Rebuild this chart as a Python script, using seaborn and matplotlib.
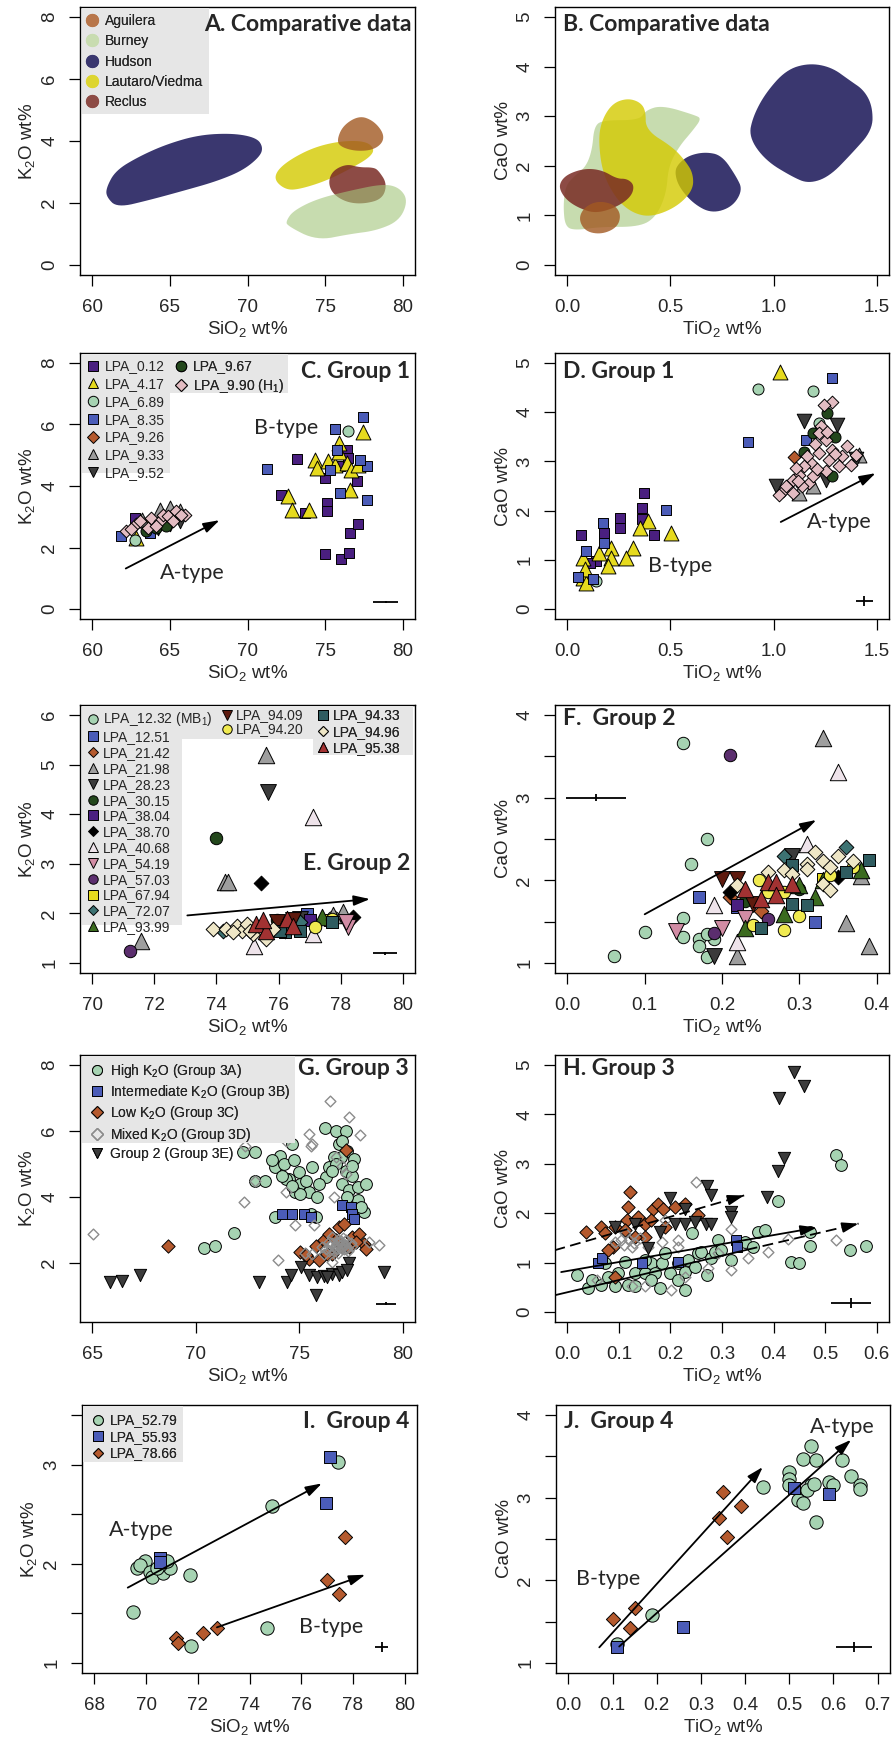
import matplotlib
matplotlib.use("Agg")
import matplotlib.pyplot as plt
import numpy as np
import seaborn as sns
from matplotlib.lines import Line2D
from matplotlib.patches import Rectangle

# ---------------- comparative data outlines (A: SiO2-K2O, B: TiO2-CaO)
hudson_a = [(60.9, 2.2), (61.6, 1.85), (63.7, 2.1), (65.9, 2.4), (68.0, 2.7), (69.7, 3.05), (70.8, 3.5),
            (71.0, 3.8), (70.6, 4.1), (69.1, 4.25), (66.9, 4.2), (64.8, 3.9), (63.0, 3.5), (61.5, 3.05), (60.9, 2.5)]
burney_a = [(72.55, 1.27), (74.45, 0.79), (76.6, 1.0), (78.3, 1.11), (79.8, 1.43), (80.35, 2.08), (79.8, 2.5),
            (78.75, 2.62), (76.6, 2.4), (74.45, 2.13), (72.95, 1.75), (72.5, 1.43)]
lautaro_a = [(71.75, 2.72), (72.5, 2.42), (73.4, 2.45), (75.1, 2.72), (76.8, 3.15), (77.9, 3.48), (78.2, 3.75),
             (77.6, 4.0), (76.0, 4.0), (74.3, 3.8), (72.8, 3.42), (71.9, 3.05)]
aguilera_a = [(75.75, 4.01), (76.15, 4.5), (77.2, 4.82), (78.1, 4.66), (78.75, 4.28), (78.75, 3.96), (78.1, 3.71),
              (77.0, 3.67), (76.05, 3.8)]
reclus_a = [(75.2, 2.67), (75.5, 2.29), (76.4, 2.02), (77.5, 1.97), (78.7, 2.13), (79.0, 2.62), (78.45, 3.05),
            (78.1, 3.15), (77.2, 3.15), (76.4, 3.26), (75.5, 3.05)]

hudson_b1 = [(0.88, 2.58), (0.96, 2.11), (1.09, 1.78), (1.17, 1.64), (1.27, 1.78), (1.38, 2.25), (1.48, 2.72),
             (1.48, 3.19), (1.44, 3.52), (1.37, 3.72), (1.28, 3.99), (1.17, 4.07), (1.06, 3.93), (0.96, 3.46), (0.9, 2.99)]
hudson_b2 = [(0.52, 1.88), (0.54, 1.58), (0.61, 1.24), (0.70, 1.04), (0.80, 1.17), (0.85, 1.51), (0.82, 1.78),
             (0.75, 2.21), (0.67, 2.28), (0.59, 2.21), (0.54, 2.05)]
burney_b = [(-0.02, 1.17), (-0.01, 0.77), (0.04, 0.7), (0.16, 0.77), (0.35, 0.77), (0.43, 0.97), (0.48, 1.44),
            (0.49, 1.98), (0.54, 2.38), (0.61, 2.72), (0.65, 2.95), (0.62, 3.02), (0.46, 3.22), (0.38, 3.12),
            (0.35, 2.92), (0.17, 2.92), (0.13, 2.79), (0.12, 2.32), (0.09, 1.98), (0.03, 1.78), (-0.01, 1.58)]
lautaro_b = [(0.15, 2.55), (0.17, 1.85), (0.24, 1.31), (0.32, 1.04), (0.41, 0.97), (0.53, 1.17), (0.61, 1.51),
             (0.61, 1.85), (0.57, 2.11), (0.51, 2.38), (0.38, 2.72), (0.38, 3.12), (0.35, 3.29), (0.29, 3.36),
             (0.22, 3.26), (0.17, 2.95)]
reclus_b = [(-0.04, 1.54), (-0.005, 1.31), (0.06, 1.14), (0.14, 1.04), (0.24, 1.17), (0.31, 1.38), (0.325, 1.61),
            (0.29, 1.74), (0.24, 1.74), (0.17, 1.91), (0.09, 1.95), (0.01, 1.85), (-0.03, 1.71)]
aguilera_b = [(0.055, 0.91), (0.076, 1.14), (0.14, 1.29), (0.22, 1.24), (0.26, 1.04), (0.245, 0.77), (0.17, 0.62),
              (0.09, 0.67)]

comp_names = ["Aguilera", "Burney", "Hudson", "Lautaro/Viedma", "Reclus"]

# ---------------- Group 1 (C: SiO2-K2O, D: TiO2-CaO)
group1_names = ["LPA_0.12", "LPA_4.17", "LPA_6.89", "LPA_8.35", "LPA_9.26", "LPA_9.33", "LPA_9.52",
                "LPA_9.67", "LPA_9.90 (H$_1$)"]
c_0_12 = [(73.16, 4.87), (74.99, 4.26), (75.1, 3.45), (75.1, 3.18), (74.99, 1.78), (76.0, 1.62), (76.56, 1.83),
          (76.6, 2.48), (77.14, 2.75), (77.03, 4.15), (76.43, 5.18), (72.15, 3.72), (73.7, 3.13), (75.96, 4.64),
          (76.5, 4.9), (62.73, 2.96)]
c_4_17 = [(72.62, 3.67), (72.9, 3.21), (73.98, 3.23), (74.34, 4.85), (74.45, 4.58), (75.2, 4.8), (75.63, 4.69),
          (75.89, 5.39), (75.91, 5.12), (76.39, 4.74), (76.7, 4.53), (77.14, 4.69), (77.46, 5.74), (76.6, 3.86),
          (62.8, 2.32)]
c_6_89 = [(76.45, 5.8), (62.73, 2.26)]
c_8_35 = [(71.23, 4.55), (75.63, 5.84), (77.46, 6.23), (77.68, 4.64), (77.68, 3.56), (75.96, 3.77), (75.31, 4.53),
          (77.25, 4.85), (75.74, 5.18), (61.87, 2.37), (63.7, 2.48)]
c_9_26 = [(63.6, 2.8), (64.9, 2.9)]
c_9_33 = [(64.34, 3.23), (64.99, 3.29), (65.63, 3.18), (63.2, 2.9)]
c_9_52 = [(65.63, 2.86), (64.99, 2.75), (64.2, 2.65)]
c_9_67 = [(63.48, 2.53), (64.13, 2.64), (64.77, 2.7)]
c_9_90 = [(62.19, 2.53), (62.84, 2.75), (63.05, 2.86), (63.6, 2.64), (63.8, 2.96), (64.34, 2.86), (64.56, 3.07),
          (64.88, 3.02), (65.2, 2.86), (65.42, 3.18), (65.96, 3.07), (65.74, 3.07), (64.13, 2.7), (62.52, 2.59)]

d_0_12 = [(0.068, 1.5), (0.37, 2.36), (0.363, 2.06), (0.363, 1.82), (0.256, 1.85), (0.256, 1.65), (0.18, 1.55),
          (0.42, 1.5), (0.14, 0.98), (0.108, 0.94)]
d_4_17 = [(1.032, 4.82), (0.39, 1.79), (0.35, 1.65), (0.318, 1.25), (0.285, 1.04), (0.213, 1.25), (0.21, 1.04),
          (0.197, 0.88), (0.153, 1.15), (0.076, 1.04), (0.076, 0.64), (0.092, 0.54), (0.503, 1.55), (0.084, 0.81)]
d_6_89 = [(0.927, 4.47), (1.19, 4.43), (0.14, 0.57), (1.22, 3.77)]
d_8_35 = [(0.173, 1.75), (0.479, 2.02), (0.874, 3.4), (1.282, 4.7), (0.092, 1.18), (0.052, 0.66), (0.18, 1.35),
          (0.124, 0.61), (1.156, 3.44)]
d_9_26 = [(1.1, 3.09)]
d_9_33 = [(1.415, 3.13), (1.19, 2.49), (1.124, 2.36)]
d_9_52 = [(1.148, 3.81), (1.31, 3.74), (1.011, 2.49), (1.253, 2.63), (1.4, 3.05)]
d_9_67 = [(1.261, 3.98), (1.19, 3.57), (1.148, 3.2), (1.3, 3.5), (1.285, 2.7)]
d_9_90 = [(1.285, 4.21), (1.245, 4.14), (1.229, 3.71), (1.253, 3.44), (1.285, 3.23), (1.358, 3.32), (1.334, 3.1),
          (1.374, 2.93), (1.318, 2.9), (1.253, 2.8), (1.221, 3.17), (1.18, 2.96), (1.148, 2.9), (1.124, 2.73),
          (1.092, 2.63), (1.044, 2.39), (1.092, 2.36), (1.173, 2.56), (1.189, 2.7), (1.27, 3.03), (1.4, 3.13),
          (1.108, 2.86), (1.221, 3.57), (1.027, 2.32), (1.14, 2.49), (1.2, 3.35), (1.16, 3.1), (1.06, 2.5),
          (1.3, 3.15), (1.21, 2.85), (1.26, 3.6), (1.12, 2.6)]

# ---------------- Group 2 (E: SiO2-K2O, F: TiO2-CaO)
group2_names = ["LPA_12.32 (MB$_1$)", "LPA_12.51", "LPA_21.42", "LPA_21.98", "LPA_28.23", "LPA_30.15",
                "LPA_38.04", "LPA_38.70", "LPA_40.68", "LPA_54.19", "LPA_57.03", "LPA_67.94", "LPA_72.07",
                "LPA_93.99", "LPA_94.09", "LPA_94.20", "LPA_94.33", "LPA_94.96", "LPA_95.38"]
e_12_32 = [(77.76, 1.92)]
e_12_51 = [(76.92, 1.99)]
e_21_42 = [(76.37, 1.82)]
e_21_98 = [(75.61, 5.19), (71.58, 1.45), (74.27, 2.63), (74.38, 2.63), (78.09, 2.02), (77.76, 1.96)]
e_28_23 = [(75.67, 4.45), (76.69, 1.89)]
e_30_15 = [(73.98, 3.52), (75.94, 1.86)]
e_38_04 = [(77.01, 1.86)]
e_38_70 = [(75.42, 2.61), (78.4, 1.92)]
e_40_68 = [(77.1, 3.94), (75.2, 1.35), (77.12, 1.59)]
e_54_19 = [(78.25, 1.72), (78.19, 1.82)]
e_57_03 = [(71.2, 1.25)]
e_67_94 = [(77.66, 1.86)]
e_72_07 = [(74.22, 1.65), (76.2, 1.65), (76.69, 1.82)]
e_93_99 = [(77.39, 1.92)]
e_94_09 = [(75.94, 1.82), (76.47, 1.86)]
e_94_20 = [(77.17, 1.72), (77.71, 1.89)]
e_94_33 = [(76.2, 1.62), (76.69, 1.65), (77.71, 1.82), (76.04, 1.65)]
e_94_96 = [(73.89, 1.69), (74.32, 1.69), (74.65, 1.75), (74.81, 1.65), (74.97, 1.79), (75.18, 1.59), (75.4, 1.72),
           (75.61, 1.49), (75.83, 1.69), (74.54, 1.62), (75.08, 1.65)]
e_95_38 = [(75.29, 1.79), (75.61, 1.65), (76.26, 1.89), (76.47, 1.75), (75.5, 1.86)]

f_12_32 = [(0.15, 3.66), (0.18, 2.5), (0.16, 2.2), (0.15, 1.55), (0.1, 1.38), (0.06, 1.08), (0.15, 1.31),
           (0.17, 1.29), (0.17, 1.21), (0.18, 1.07), (0.19, 1.29), (0.18, 1.35)]
f_12_51 = [(0.17, 1.8), (0.32, 1.5), (0.22, 1.68)]
f_21_42 = [(0.25, 1.63), (0.21, 1.8)]
f_21_98 = [(0.33, 3.72), (0.36, 1.49), (0.39, 1.21), (0.22, 1.09), (0.38, 2.05)]
f_28_23 = [(0.19, 1.09), (0.29, 2.3)]
f_30_15 = [(0.23, 1.75), (0.3, 1.9)]
f_38_04 = [(0.22, 1.7)]
f_38_70 = [(0.21, 1.86), (0.35, 2.04)]
f_40_68 = [(0.35, 3.31), (0.19, 1.7), (0.22, 1.25), (0.31, 2.44)]
f_54_19 = [(0.14, 1.39), (0.2, 1.43), (0.23, 1.55)]
f_57_03 = [(0.21, 3.52), (0.19, 1.36), (0.26, 1.53)]
f_67_94 = [(0.33, 2.02)]
f_72_07 = [(0.28, 2.3), (0.36, 2.4)]
f_93_99 = [(0.23, 1.42), (0.28, 1.59), (0.3, 1.94), (0.32, 1.8), (0.38, 2.13), (0.33, 2.0)]
f_94_09 = [(0.2, 2.02), (0.22, 2.02), (0.24, 1.72)]
f_94_20 = [(0.28, 1.4), (0.3, 1.57), (0.24, 1.46), (0.248, 2.0), (0.26, 1.86), (0.28, 1.86), (0.34, 2.06),
           (0.37, 2.16)]
f_94_33 = [(0.25, 1.43), (0.29, 1.71), (0.31, 1.7), (0.29, 2.18), (0.36, 2.1), (0.39, 2.25)]
f_94_96 = [(0.22, 1.94), (0.26, 2.1), (0.28, 2.12), (0.31, 2.2), (0.32, 2.34), (0.33, 2.24), (0.35, 2.29),
           (0.37, 2.23), (0.34, 2.16), (0.33, 1.96), (0.34, 1.88), (0.29, 2.08), (0.31, 2.14)]
f_95_38 = [(0.23, 1.9), (0.25, 1.78), (0.26, 1.98), (0.27, 1.98), (0.27, 1.82), (0.29, 1.96)]

# ---------------- Group 3 (G: SiO2-K2O, H: TiO2-CaO)
group3_names = ["High K$_2$O (Group 3A)", "Intermediate K$_2$O (Group 3B)", "Low K$_2$O (Group 3C)",
                "Mixed K$_2$O (Group 3D)", "Group 2 (Group 3E)"]
g_high = [(72.28, 5.35), (72.88, 5.35), (72.88, 4.47), (73.37, 4.47), (71.83, 2.9), (70.42, 2.45), (70.94, 2.52),
          (73.85, 3.38), (73.85, 4.89), (74.09, 5.25), (74.26, 5.0), (74.66, 5.6), (74.74, 5.1), (74.5, 4.54),
          (74.34, 4.54), (74.98, 4.74), (75.06, 4.39), (74.82, 4.14), (75.47, 4.14), (75.63, 4.89), (75.87, 3.99),
          (75.55, 3.48), (75.79, 3.38), (76.25, 6.1), (76.76, 6.0), (76.93, 5.6), (77.25, 6.0), (77.33, 5.4),
          (77.65, 5.15), (77.0, 5.2), (76.68, 5.2), (76.28, 4.59), (76.44, 4.89), (76.76, 4.99), (77.25, 4.79),
          (77.57, 4.64), (77.09, 4.39), (77.41, 4.19), (77.82, 4.29), (78.22, 4.39), (77.82, 3.89), (78.14, 3.53),
          (77.33, 3.99), (77.98, 3.68), (76.6, 4.79), (75.95, 4.39), (73.69, 5.1), (74.18, 4.64), (75.31, 4.49),
          (75.06, 4.09), (74.66, 4.34), (77.09, 5.7), (77.57, 4.92)]
g_inter = [(74.18, 3.48), (74.66, 3.48), (75.23, 3.48), (75.55, 3.38), (77.09, 3.76), (77.49, 3.68), (77.57, 3.48),
           (77.65, 3.33)]
g_low = [(68.67, 2.5), (77.25, 5.42), (75.06, 2.32), (75.47, 2.12), (75.79, 2.52), (76.2, 2.68), (76.44, 2.88),
         (76.6, 2.27), (76.93, 3.08), (77.17, 3.18), (77.57, 2.78), (77.9, 2.88), (78.14, 2.57), (77.09, 2.47),
         (76.36, 2.27), (75.95, 2.07), (76.76, 2.68), (77.41, 2.47), (77.73, 2.63), (78.22, 2.42), (75.31, 2.22)]
g_mixed = [(65.03, 2.86), (72.31, 3.84), (72.39, 5.55), (73.98, 2.07), (74.34, 5.7), (74.82, 3.13), (75.47, 5.9),
           (75.55, 5.55), (76.47, 6.91), (77.41, 6.41), (77.94, 5.88), (78.87, 2.54), (78.38, 2.63), (76.6, 2.02),
           (75.71, 3.13), (77.09, 4.94), (77.25, 4.69), (76.76, 5.2), (76.6, 2.78), (76.93, 2.63), (77.25, 2.68),
           (76.12, 2.47), (76.44, 2.63), (77.57, 2.52), (75.63, 2.27), (72.88, 4.49), (74.34, 4.14), (76.68, 3.99),
           (76.8, 2.55), (77.0, 2.45), (76.5, 2.5), (77.2, 2.55), (76.9, 2.7), (76.3, 2.4), (77.5, 2.6),
           (76.7, 2.35), (77.1, 2.75), (75.3, 2.3), (75.6, 5.6), (76.85, 2.6), (77.05, 2.58), (76.95, 2.5),
           (76.75, 2.45), (77.15, 2.4), (76.6, 2.6), (77.3, 2.45), (76.45, 2.35), (77.0, 2.65), (76.85, 2.4),
           (77.35, 2.35), (76.2, 2.25), (76.9, 2.3)]
g_grp2 = [(65.87, 1.42), (66.44, 1.45), (67.3, 1.62), (73.04, 1.42), (74.42, 1.42), (74.61, 1.62), (75.11, 1.87),
          (75.47, 1.62), (75.79, 1.01), (75.87, 1.57), (76.2, 1.59), (76.6, 1.67), (76.93, 1.62), (77.09, 1.72),
          (77.41, 1.99), (77.33, 1.77), (79.11, 1.72), (76.36, 1.57)]

h_high = [(0.018, 0.75), (0.04, 0.48), (0.047, 0.65), (0.066, 0.55), (0.079, 0.72), (0.092, 0.52), (0.099, 0.79),
          (0.118, 0.55), (0.131, 0.52), (0.131, 0.79), (0.15, 0.79), (0.163, 0.99), (0.17, 0.79), (0.179, 0.48),
          (0.183, 0.99), (0.2, 0.79), (0.215, 0.99), (0.228, 0.82), (0.228, 0.45), (0.241, 1.59), (0.234, 1.05),
          (0.254, 1.19), (0.26, 1.22), (0.27, 0.75), (0.279, 1.09), (0.292, 1.46), (0.286, 1.22), (0.299, 1.26),
          (0.318, 1.05), (0.344, 1.42), (0.36, 1.32), (0.37, 1.62), (0.383, 1.66), (0.408, 2.25), (0.434, 1.02),
          (0.45, 0.99), (0.47, 1.34), (0.47, 1.62), (0.521, 3.17), (0.531, 2.97), (0.549, 1.26), (0.579, 1.34),
          (0.15, 1.05), (0.189, 1.19), (0.112, 1.02), (0.073, 0.99), (0.215, 0.65), (0.247, 0.92), (0.163, 0.65)]
h_inter = [(0.06, 0.99), (0.068, 1.09), (0.328, 1.46), (0.33, 1.32), (0.215, 1.02), (0.144, 0.99)]
h_low = [(0.037, 1.62), (0.066, 1.72), (0.073, 1.59), (0.121, 2.43), (0.117, 2.13), (0.115, 1.86), (0.137, 1.93),
         (0.15, 1.79), (0.166, 2.09), (0.175, 2.19), (0.185, 2.09), (0.208, 2.13), (0.228, 2.19), (0.254, 1.96),
         (0.092, 1.72), (0.092, 0.72), (0.089, 1.32), (0.15, 1.52), (0.163, 1.86), (0.189, 1.72), (0.112, 1.66),
         (0.131, 1.52), (0.079, 1.26)]
h_mixed = [(0.25, 2.63), (0.318, 1.69), (0.318, 0.85), (0.35, 1.09), (0.389, 1.22), (0.428, 1.48), (0.521, 1.46),
           (0.202, 0.45), (0.15, 0.52), (0.273, 0.89), (0.292, 1.19), (0.215, 1.46), (0.105, 1.46), (0.125, 1.32),
           (0.092, 1.42), (0.157, 1.32), (0.183, 1.42), (0.215, 1.32), (0.189, 1.86), (0.228, 0.72), (0.125, 0.52),
           (0.112, 1.59), (0.057, 0.65), (0.13, 1.4), (0.14, 1.5), (0.11, 1.35), (0.12, 1.45)]
h_grp2 = [(0.439, 4.85), (0.459, 4.58), (0.41, 4.33), (0.42, 3.11), (0.408, 2.85), (0.388, 2.33), (0.27, 2.56),
          (0.279, 2.36), (0.318, 2.03), (0.318, 1.93), (0.199, 2.3), (0.228, 2.09), (0.208, 1.79), (0.228, 1.79),
          (0.247, 1.83), (0.268, 1.79), (0.279, 1.79), (0.179, 1.62), (0.157, 1.29), (0.092, 1.72), (0.131, 1.79)]

# ---------------- Group 4 (I: SiO2-K2O, J: TiO2-CaO)
group4_names = ["LPA_52.79", "LPA_55.93", "LPA_78.66"]
i_52_79 = [(69.51, 1.51), (71.74, 1.17), (74.67, 1.35), (74.86, 2.58), (77.41, 3.03), (71.7, 1.89), (69.64, 1.96),
           (69.96, 2.03), (69.77, 1.99), (70.15, 1.92), (70.21, 1.87), (70.67, 1.91), (70.93, 1.96), (70.54, 1.99),
           (70.8, 2.03), (70.41, 1.96)]
i_55_93 = [(70.52, 2.06), (70.52, 2.02), (77.12, 3.08), (76.97, 2.61)]
i_78_66 = [(71.16, 1.25), (71.25, 1.2), (72.22, 1.3), (72.74, 1.35), (76.99, 1.84), (77.45, 1.7), (77.7, 2.27)]
j_52_79 = [(0.11, 1.23), (0.19, 1.58), (0.44, 3.13), (0.5, 3.31), (0.5, 3.22), (0.5, 3.15), (0.53, 3.47),
           (0.55, 3.62), (0.56, 3.45), (0.55, 3.15), (0.54, 3.09), (0.52, 2.97), (0.53, 2.93), (0.56, 2.7),
           (0.59, 3.19), (0.6, 3.15), (0.62, 3.45), (0.64, 3.26), (0.66, 3.15), (0.66, 3.1), (0.555, 3.17)]
j_55_93 = [(0.11, 1.19), (0.26, 1.44), (0.51, 3.12), (0.59, 3.05)]
j_78_66 = [(0.1, 1.53), (0.15, 1.66), (0.14, 1.43), (0.34, 2.75), (0.35, 3.07), (0.36, 2.52), (0.39, 2.9)]

# analytical error bars: (x, y, xerr, yerr)
err_c = (78.9, 0.24, 0.83, 0.04)
err_d = (1.44, 0.17, 0.04, 0.1)
err_e = (79.43, 1.2, 0.38, 0.03)
err_f = (0.037, 3.0, 0.039, 0.04)
err_g = (79.19, 0.76, 0.48, 0.04)
err_h = (0.551, 0.18, 0.039, 0.1)
err_i = (79.12, 1.16, 0.25, 0.05)
err_j = (0.646, 1.19, 0.041, 0.06)

# trend arrows (start, end)
arrows_c = [((62.15, 1.32), (68.2, 2.89))]
arrows_d = [((1.035, 1.77), (1.495, 2.76))]
arrows_e = [((73.06, 1.96), (78.95, 2.29))]
arrows_f = [((0.1, 1.59), (0.322, 2.73))]
arrows_i = [((69.29, 1.76), (76.8, 2.81)), ((72.74, 1.36), (78.48, 1.89))]
arrows_j = [((0.07, 1.19), (0.44, 3.37)), ((0.115, 1.2), (0.64, 3.7))]
h_arrow_top = ((-0.025, 1.25), (0.343, 2.36))
h_arrow_mid = ((-0.012, 0.81), (0.484, 1.71))
h_arrow_low = ((-0.025, 0.34), (0.348, 1.26), (0.565, 1.79))

# ---------------- styles
GREEN = "#A6D3B2"; BLUE = "#4B5CB8"; ORANGE = "#B55A2E"; PURPLE = "#4A1F80"; YELLOW = "#E6DA1E"
STYLE = {
    "LPA_0.12": ("s", PURPLE), "LPA_4.17": ("^", YELLOW), "LPA_6.89": ("o", GREEN), "LPA_8.35": ("s", BLUE),
    "LPA_9.26": ("D", ORANGE), "LPA_9.33": ("^", "#9E9E9E"), "LPA_9.52": ("v", "#3B3B3B"),
    "LPA_9.67": ("o", "#23471C"), "LPA_9.90 (H$_1$)": ("D", "#E3BCC2"),
    "LPA_12.32 (MB$_1$)": ("o", GREEN), "LPA_12.51": ("s", BLUE), "LPA_21.42": ("D", ORANGE),
    "LPA_21.98": ("^", "#9E9E9E"), "LPA_28.23": ("v", "#3B3B3B"), "LPA_30.15": ("o", "#23471C"),
    "LPA_38.04": ("s", PURPLE), "LPA_38.70": ("D", "#000000"), "LPA_40.68": ("^", "#EEE3EA"),
    "LPA_54.19": ("v", "#D18CA4"), "LPA_57.03": ("o", "#5B2E6E"), "LPA_67.94": ("s", YELLOW),
    "LPA_72.07": ("D", "#3D7373"), "LPA_93.99": ("^", "#3B6B1F"), "LPA_94.09": ("v", "#5E1A0E"),
    "LPA_94.20": ("o", "#F0EA50"), "LPA_94.33": ("s", "#2F5C60"), "LPA_94.96": ("D", "#EEE6C6"),
    "LPA_95.38": ("^", "#A23232"),
    "High K$_2$O (Group 3A)": ("o", GREEN), "Intermediate K$_2$O (Group 3B)": ("s", BLUE),
    "Low K$_2$O (Group 3C)": ("D", ORANGE), "Mixed K$_2$O (Group 3D)": ("D", "none"),
    "Group 2 (Group 3E)": ("v", "#3B3B3B"),
    "LPA_52.79": ("o", GREEN), "LPA_55.93": ("s", BLUE), "LPA_78.66": ("D", ORANGE),
}
COMP = {"Aguilera": ("#A25922", 0.8, "#B8764A"), "Burney": ("#A3C57B", 0.6, "#C8DCB0"),
        "Hudson": ("#3A376F", 1.0, "#3A376F"), "Lautaro/Viedma": ("#D4CA00", 0.8, "#DDD530"),
        "Reclus": ("#792B24", 0.85, "#8D4B45")}

sns.set_style("ticks")
plt.rcParams["font.family"] = ["Liberation Sans", "DejaVu Sans"]
plt.rcParams["mathtext.default"] = "regular"
TITLE_FONT = ["Lato", "DejaVu Sans"]

W, H = 893, 1746
fig = plt.figure(figsize=(W / 100, H / 100), dpi=100)


def fx(px):
    return px / W


def fy(py):
    return 1 - py / H


def make_ax(left, top, right, bottom):
    return fig.add_axes([fx(left), fy(bottom), (right - left) / W, (bottom - top) / H])


def rlim(lo, hi):
    d = (hi - lo) * 0.04
    return lo - d, hi + d


def style_axes(ax, xlim, ylim, xticks, yticks, xlabels, ylabels, xlab, ylab):
    ax.set_xlim(*rlim(*xlim))
    ax.set_ylim(*rlim(*ylim))
    ax.set_xticks(xticks)
    ax.set_xticklabels(xlabels)
    ax.set_yticks(yticks)
    ax.set_yticklabels(ylabels, rotation=90, va="center")
    ax.tick_params(direction="out", length=8, width=0.9, labelsize=13.5, color="black")
    ax.tick_params(axis="x", pad=9.5)
    ax.tick_params(axis="y", pad=7.5)
    for sp in ax.spines.values():
        sp.set_visible(True)
        sp.set_color("black")
        sp.set_linewidth(1.0)
    ax.set_xlabel(xlab, fontsize=13.5, labelpad=2)
    ax.set_ylabel(ylab, fontsize=13.5, labelpad=3)


def smooth(pts, n=3):
    p = np.array(pts, float)
    for _ in range(n):
        q = np.roll(p, -1, axis=0)
        new = np.empty((2 * len(p), 2))
        new[0::2] = 0.75 * p + 0.25 * q
        new[1::2] = 0.25 * p + 0.75 * q
        p = new
    return p


def blob(ax, pts, name):
    col, alpha, _ = COMP[name]
    p = smooth(pts)
    ax.fill(p[:, 0], p[:, 1], color=col, alpha=alpha, lw=0, zorder=2)


def points(ax, pts, name, sizes):
    marker, color = STYLE[name]
    xs = [p[0] for p in pts]
    ys = [p[1] for p in pts]
    if color == "none":
        sns.scatterplot(x=xs, y=ys, marker=marker, color=(1, 1, 1, 0), edgecolor="#8C8C8C",
                        s=sizes["d"], linewidth=1.0, ax=ax, legend=False, zorder=3)
    else:
        sns.scatterplot(x=xs, y=ys, marker=marker, color=color, edgecolor="black",
                        s=sizes[marker], linewidth=0.7, ax=ax, legend=False, zorder=3)


def errbar(ax, e):
    ax.errorbar([e[0]], [e[1]], xerr=[e[2]], yerr=[e[3]], fmt="none", ecolor="black",
                elinewidth=1.3, capsize=0, zorder=3)


def arrow(ax, start, end, ls="-"):
    ax.annotate("", xy=end, xytext=start, zorder=4,
                arrowprops=dict(arrowstyle="-|>,head_length=0.7,head_width=0.22", color="black",
                                lw=1.3, ls=ls, mutation_scale=14, shrinkA=0, shrinkB=0))


def title(ax, text, right, x, y):
    ax.text(x, y, text, transform=ax.transAxes, ha="right" if right else "left", va="center",
            fontsize=16.5, fontweight="bold", family=TITLE_FONT, zorder=6)


def type_label(ax, text, x, y):
    ax.text(x, y, text, ha="center", va="center", fontsize=15.5, family=TITLE_FONT, zorder=6)


def legend_bg(ax, x0, y0, x1, y1):
    ax.add_patch(Rectangle((fx(x0), fy(y1)), fx(x1) - fx(x0), fy(y0) - fy(y1), transform=fig.transFigure,
                           facecolor="#E6E6E6", edgecolor="none", zorder=4.5, clip_on=False))


def legend(ax, names, x0, y0, ms, spacing, textpad, fs=10, circles=False):
    handles = []
    for n in names:
        if circles:
            handles.append(Line2D([], [], ls="none", marker="o", markersize=ms, markerfacecolor=COMP[n][2],
                                  markeredgecolor="none"))
            continue
        m, c = STYLE[n]
        if c == "none":
            handles.append(Line2D([], [], ls="none", marker=m, markersize=ms * 0.8, markerfacecolor="none",
                                  markeredgecolor="#8C8C8C", markeredgewidth=1.0))
        else:
            mm = ms * 0.8 if m == "D" else ms
            handles.append(Line2D([], [], ls="none", marker=m, markersize=mm, markerfacecolor=c,
                                  markeredgecolor="black", markeredgewidth=0.7))
    leg = ax.legend(handles, names, loc="upper left", bbox_to_anchor=(fx(x0), fy(y0)),
                    bbox_transform=fig.transFigure, frameon=False, fontsize=fs, handlelength=0.8,
                    handletextpad=textpad, labelspacing=spacing, borderpad=0, borderaxespad=0)
    leg.set_zorder(5)
    ax.add_artist(leg)


LCOL = (80, 415)
RCOL = (555, 889)
ROWS = [(7, 275), (353, 619), (705, 973), (1055, 1322), (1405, 1673)]
SIO2 = "SiO$_2$ wt%"
TIO2 = "TiO$_2$ wt%"
K2O = "K$_2$O wt%"
CAO = "CaO wt%"

# ======== A
ax = make_ax(LCOL[0], ROWS[0][0], LCOL[1], ROWS[0][1])
for pts, n in [(hudson_a, "Hudson"), (lautaro_a, "Lautaro/Viedma"), (aguilera_a, "Aguilera"),
               (reclus_a, "Reclus"), (burney_a, "Burney")]:
    blob(ax, pts, n)
style_axes(ax, (60, 80), (0, 8), [60, 65, 70, 75, 80], [0, 2, 4, 6, 8],
           ["60", "65", "70", "75", "80"], ["0", "2", "4", "6", "8"], SIO2, K2O)
title(ax, "A. Comparative data", True, 0.991, 0.935)
legend_bg(ax, 82, 8, 209, 114)
legend(ax, comp_names, 86, 14, 9.5, 0.45, 0.55, circles=True)

# ======== B
ax = make_ax(RCOL[0], ROWS[0][0], RCOL[1], ROWS[0][1])
for pts, n in [(hudson_b1, "Hudson"), (hudson_b2, "Hudson"), (burney_b, "Burney"), (lautaro_b, "Lautaro/Viedma"),
               (reclus_b, "Reclus"), (aguilera_b, "Aguilera")]:
    blob(ax, pts, n)
style_axes(ax, (0, 1.5), (0, 5), [0, 0.5, 1.0, 1.5], [0, 1, 2, 3, 4, 5],
           ["0.0", "0.5", "1.0", "1.5"], ["0", "1", "2", "3", "4", "5"], TIO2, CAO)
title(ax, "B. Comparative data", False, 0.024, 0.935)

# ======== C / D
S1 = {"o": 63, "s": 55, "^": 115, "v": 110, "D": 42}
ax = make_ax(LCOL[0], ROWS[1][0], LCOL[1], ROWS[1][1])
for pts, n in zip([c_0_12, c_4_17, c_6_89, c_8_35, c_9_26, c_9_33, c_9_52, c_9_67, c_9_90], group1_names):
    points(ax, pts, n, S1)
errbar(ax, err_c)
for s, e in arrows_c:
    arrow(ax, s, e)
type_label(ax, "A-type", 66.43, 1.19)
type_label(ax, "B-type", 72.47, 5.9)
style_axes(ax, (60, 80), (0, 8), [60, 65, 70, 75, 80], [0, 2, 4, 6, 8],
           ["60", "65", "70", "75", "80"], ["0", "2", "4", "6", "8"], SIO2, K2O)
title(ax, "C. Group 1", True, 0.985, 0.932)
legend_bg(ax, 82, 354, 170, 473)
legend_bg(ax, 170, 354, 288, 393)
legend(ax, group1_names[:7], 87.5, 359.5, 7.5, 0.27, 0.47)
legend(ax, group1_names[7:], 175.5, 359.5, 7.5, 0.27, 0.47)

ax = make_ax(RCOL[0], ROWS[1][0], RCOL[1], ROWS[1][1])
for pts, n in zip([d_0_12, d_4_17, d_6_89, d_8_35, d_9_26, d_9_33, d_9_52, d_9_67, d_9_90], group1_names):
    points(ax, pts, n, S1)
errbar(ax, err_d)
for s, e in arrows_d:
    arrow(ax, s, e)
type_label(ax, "A-type", 1.32, 1.77)
type_label(ax, "B-type", 0.548, 0.88)
style_axes(ax, (0, 1.5), (0, 5), [0, 0.5, 1.0, 1.5], [0, 1, 2, 3, 4, 5],
           ["0.0", "0.5", "1.0", "1.5"], ["0", "1", "2", "3", "4", "5"], TIO2, CAO)
title(ax, "D. Group 1", False, 0.024, 0.932)

# ======== E / F
S2 = {"o": 80, "s": 70, "^": 140, "v": 130, "D": 56}
ax = make_ax(LCOL[0], ROWS[2][0], LCOL[1], ROWS[2][1])
e_sets = [e_12_32, e_12_51, e_21_42, e_21_98, e_28_23, e_30_15, e_38_04, e_38_70, e_40_68, e_54_19, e_57_03,
          e_67_94, e_72_07, e_93_99, e_94_09, e_94_20, e_94_33, e_94_96, e_95_38]
for pts, n in zip(e_sets, group2_names):
    points(ax, pts, n, S2)
errbar(ax, err_e)
for s, e in arrows_e:
    arrow(ax, s, e)
style_axes(ax, (70, 80), (1, 6), [70, 72, 74, 76, 78, 80], [1, 2, 3, 4, 5, 6],
           ["70", "72", "74", "76", "78", "80"], ["1", "2", "3", "4", "5", "6"], SIO2, K2O)
title(ax, "E. Group 2", True, 0.985, 0.41)
legend_bg(ax, 82, 706, 182, 925)
legend_bg(ax, 182, 706, 313, 739)
legend_bg(ax, 313, 706, 413, 755)
legend(ax, group2_names[:14], 87.5, 710.5, 6.8, 0.13, 0.32)
legend(ax, group2_names[14:16], 221.5, 708.5, 6.8, 0.0, 0.25)
legend(ax, group2_names[16:], 317.5, 708.5, 6.8, 0.15, 0.32)

ax = make_ax(RCOL[0], ROWS[2][0], RCOL[1], ROWS[2][1])
f_sets = [f_12_32, f_12_51, f_21_42, f_21_98, f_28_23, f_30_15, f_38_04, f_38_70, f_40_68, f_54_19, f_57_03,
          f_67_94, f_72_07, f_93_99, f_94_09, f_94_20, f_94_33, f_94_96, f_95_38]
for pts, n in zip(f_sets, group2_names):
    points(ax, pts, n, S2)
errbar(ax, err_f)
for s, e in arrows_f:
    arrow(ax, s, e)
style_axes(ax, (0, 0.4), (1, 4), [0, 0.1, 0.2, 0.3, 0.4], [1, 1.5, 2, 2.5, 3, 3.5, 4],
           ["0.0", "0.1", "0.2", "0.3", "0.4"], ["1", "", "2", "", "3", "", "4"], TIO2, CAO)
title(ax, "F.  Group 2", False, 0.024, 0.948)

# ======== G / H
S3 = {"o": 72, "s": 62, "D": 46, "v": 78, "d": 30}
ax = make_ax(LCOL[0], ROWS[3][0], LCOL[1], ROWS[3][1])
for pts, n in zip([g_high, g_inter, g_low, g_mixed, g_grp2], group3_names):
    points(ax, pts, n, S3)
errbar(ax, err_g)
style_axes(ax, (65, 80), (0.5, 8), [65, 70, 75, 80], [2, 4, 6, 8],
           ["65", "70", "75", "80"], ["2", "4", "6", "8"], SIO2, K2O)
title(ax, "G. Group 3", True, 0.982, 0.948)
legend_bg(ax, 82, 1056, 295, 1143)
legend(ax, group3_names, 91.5, 1061.5, 7.2, 0.24, 0.54)

ax = make_ax(RCOL[0], ROWS[3][0], RCOL[1], ROWS[3][1])
for pts, n in zip([h_high, h_inter, h_low, h_mixed, h_grp2], group3_names):
    points(ax, pts, n, S3)
errbar(ax, err_h)
(s0, e0) = h_arrow_top
ax.plot([s0[0], e0[0]], [s0[1], e0[1]], color="black", lw=1.3, ls=(0, (6, 3)), zorder=4)
arrow(ax, (e0[0] - 0.03, e0[1] - 0.09), e0)
arrow(ax, *h_arrow_mid)
s0, m0, e0 = h_arrow_low
ax.plot([s0[0], m0[0]], [s0[1], m0[1]], color="black", lw=1.3, zorder=4)
ax.plot([m0[0], e0[0]], [m0[1], e0[1]], color="black", lw=1.3, ls=(0, (6, 3)), zorder=4)
arrow(ax, (e0[0] - 0.03, e0[1] - 0.075), e0)
style_axes(ax, (0, 0.6), (0, 5), [0, 0.1, 0.2, 0.3, 0.4, 0.5, 0.6], [0, 1, 2, 3, 4, 5],
           ["0.0", "0.1", "0.2", "0.3", "0.4", "0.5", "0.6"], ["0", "1", "2", "3", "4", "5"], TIO2, CAO)
title(ax, "H. Group 3", False, 0.024, 0.948)

# ======== I / J
S4 = {"o": 92, "s": 75, "D": 52}
ax = make_ax(82, ROWS[4][0], 417, ROWS[4][1])
for pts, n in zip([i_52_79, i_55_93, i_78_66], group4_names):
    points(ax, pts, n, S4)
errbar(ax, err_i)
for s, e in arrows_i:
    arrow(ax, s, e)
type_label(ax, "A-type", 69.8, 2.34)
type_label(ax, "B-type", 77.16, 1.36)
style_axes(ax, (68, 80), (1, 3.5), [68, 70, 72, 74, 76, 78, 80], [1, 1.5, 2, 2.5, 3, 3.5],
           ["68", "70", "72", "74", "76", "78", "80"], ["1", "", "2", "", "3", ""], SIO2, K2O)
title(ax, "I.  Group 4", True, 0.976, 0.937)
legend_bg(ax, 83, 1406, 183, 1462)
legend(ax, group4_names, 92.5, 1413.5, 7.0, 0.18, 0.47)

ax = make_ax(RCOL[0] + 1, ROWS[4][0], RCOL[1] + 1, ROWS[4][1])
for pts, n in zip([j_52_79, j_55_93, j_78_66], group4_names):
    points(ax, pts, n, S4)
errbar(ax, err_j)
for s, e in arrows_j:
    arrow(ax, s, e)
type_label(ax, "B-type", 0.09, 2.02)
type_label(ax, "A-type", 0.62, 3.85)
style_axes(ax, (0, 0.7), (1, 4), [0, 0.1, 0.2, 0.3, 0.4, 0.5, 0.6, 0.7], [1, 1.5, 2, 2.5, 3, 3.5, 4],
           ["0.0", "0.1", "0.2", "0.3", "0.4", "0.5", "0.6", "0.7"], ["1", "", "2", "", "3", "", "4"], TIO2, CAO)
title(ax, "J.  Group 4", False, 0.024, 0.937)

fig.savefig("out.png", dpi=100)
